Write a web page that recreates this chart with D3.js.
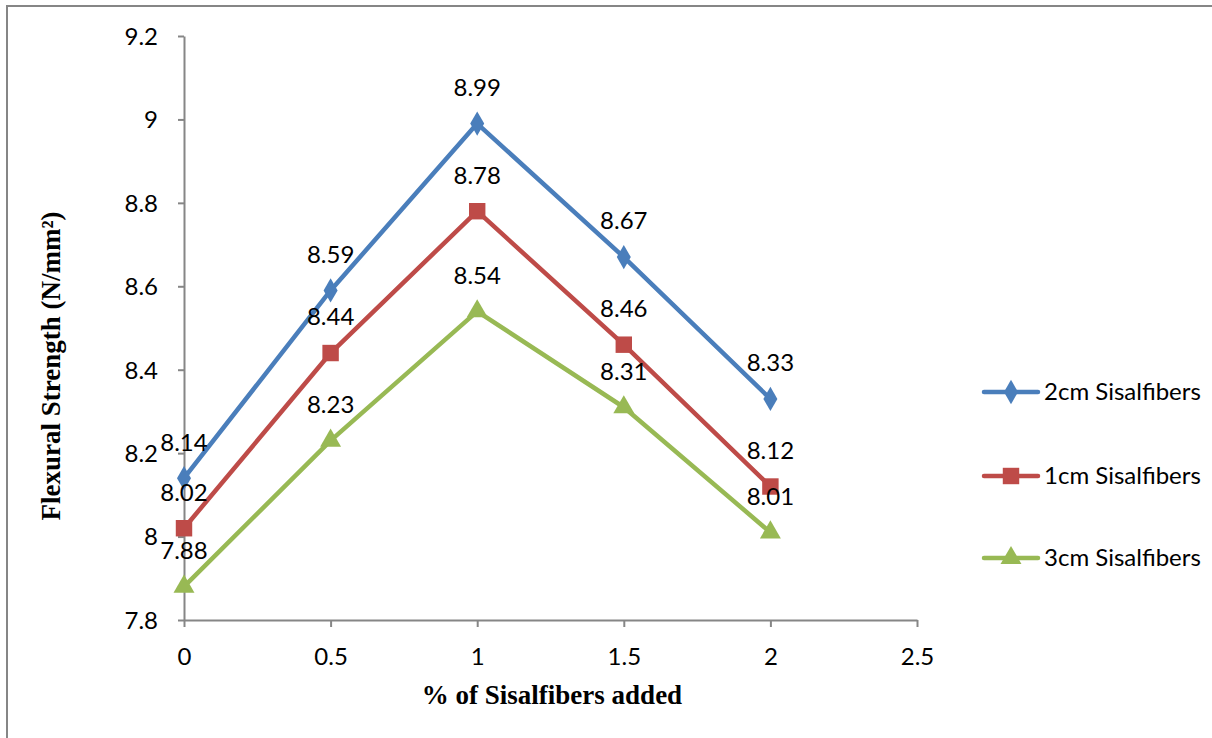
<!DOCTYPE html>
<html>
<head>
<meta charset="utf-8">
<script src="https://cdn.jsdelivr.net/npm/d3@7/dist/d3.min.js"></script>
<style>
  html, body { margin: 0; padding: 0; background: #fff; }
  svg { display: block; }
</style>
</head>
<body>
<svg id="chart" width="1212" height="738"></svg>
<script>
// Fibre dosage (% of sisal fibres added)
const fiberPercent = [0, 0.5, 1, 1.5, 2];

// Flexural strength (N/mm²) per fibre length
const strength2cm = [8.14, 8.59, 8.99, 8.67, 8.33];
const strength1cm = [8.02, 8.44, 8.78, 8.46, 8.12];
const strength3cm = [7.88, 8.23, 8.54, 8.31, 8.01];

const seriesNames = ["2cm Sisalfibers", "1cm Sisalfibers", "3cm Sisalfibers"];

const xTicks = [0, 0.5, 1, 1.5, 2, 2.5];
const yTicks = [7.8, 8, 8.2, 8.4, 8.6, 8.8, 9, 9.2];

const series = [
  { name: seriesNames[0], values: strength2cm, color: "#4a7ebb", marker: "diamond" },
  { name: seriesNames[1], values: strength1cm, color: "#be4b48", marker: "square" },
  { name: seriesNames[2], values: strength3cm, color: "#98b954", marker: "triangle" }
];

const svg = d3.select("#chart");
const labelFont = "Lato, 'Open Sans', sans-serif";
const labelSize = "24px";
const titleFont = "'Liberation Serif', 'Times New Roman', serif";
const titleSize = "27px";
const axisColor = "#868686";

// Outer chart frame
svg.append("rect")
  .attr("x", 7).attr("y", 6)
  .attr("width", 1240).attr("height", 760)
  .attr("fill", "none").attr("stroke", axisColor).attr("stroke-width", 2);

const x = d3.scaleLinear().domain([0, 2.5]).range([184, 917]);
const y = d3.scaleLinear().domain([7.8, 9.2]).range([620, 36]);

// Y axis
const yAxis = svg.append("g")
  .attr("transform", `translate(${x(0)},0)`)
  .call(d3.axisLeft(y).tickValues(yTicks).tickSize(6).tickSizeOuter(0)
    .tickFormat(d => d3.format("~g")(d)));
yAxis.select(".domain").attr("stroke", axisColor).attr("stroke-width", 2);
yAxis.selectAll(".tick line").attr("stroke", axisColor).attr("stroke-width", 2);
yAxis.selectAll(".tick text")
  .attr("x", -26).attr("dy", "0.35em")
  .style("font-family", labelFont).style("font-size", labelSize).attr("fill", "#000");

// X axis
const xAxis = svg.append("g")
  .attr("transform", `translate(0,${y(7.8)})`)
  .call(d3.axisBottom(x).tickValues(xTicks).tickSize(7).tickSizeOuter(0)
    .tickFormat(d => d3.format("~g")(d)));
xAxis.select(".domain").attr("stroke", axisColor).attr("stroke-width", 2);
xAxis.selectAll(".tick line").attr("stroke", axisColor).attr("stroke-width", 2);
xAxis.selectAll(".tick text")
  .attr("y", 37).attr("dy", "0.35em")
  .style("font-family", labelFont).style("font-size", labelSize).attr("fill", "#000");

// Axis titles
svg.append("text")
  .attr("x", 552).attr("y", 704)
  .attr("text-anchor", "middle")
  .style("font-family", titleFont).style("font-weight", "bold").style("font-size", titleSize)
  .text("% of Sisalfibers added");

svg.append("text")
  .attr("transform", "translate(60,366) rotate(-90)")
  .attr("text-anchor", "middle")
  .style("font-family", titleFont).style("font-weight", "bold").style("font-size", titleSize)
  .text("Flexural Strength (N/mm²)");

const symbolFor = {
  diamond: d3.symbol().type(d3.symbolDiamond).size(170),
  square: d3.symbol().type(d3.symbolSquare).size(270),
  triangle: d3.symbol().type(d3.symbolTriangle).size(190)
};

const line = d3.line().x((d, i) => x(fiberPercent[i])).y(d => y(d));

series.forEach(s => {
  const g = svg.append("g");
  g.append("path")
    .datum(s.values)
    .attr("d", line)
    .attr("fill", "none")
    .attr("stroke", s.color)
    .attr("stroke-width", 4.5)
    .attr("stroke-linejoin", "round");

  g.selectAll("path.marker")
    .data(s.values)
    .join("path")
    .attr("class", "marker")
    .attr("transform", (d, i) => `translate(${x(fiberPercent[i])},${y(d)})`)
    .attr("d", symbolFor[s.marker])
    .attr("fill", s.color);

  g.selectAll("text.value")
    .data(s.values)
    .join("text")
    .attr("class", "value")
    .attr("x", (d, i) => x(fiberPercent[i]))
    .attr("y", d => y(d) - 36)
    .attr("dy", "0.35em")
    .attr("text-anchor", "middle")
    .style("font-family", labelFont).style("font-size", labelSize)
    .attr("fill", "#000")
    .text(d => d3.format(".2f")(d));
});

// Legend
const legendY = [392, 476, 558];
series.forEach((s, i) => {
  const g = svg.append("g").attr("transform", `translate(0,${legendY[i]})`);
  g.append("line")
    .attr("x1", 984).attr("x2", 1038).attr("y1", 0).attr("y2", 0)
    .attr("stroke", s.color).attr("stroke-width", 4.5).attr("stroke-linecap", "round");
  g.append("path")
    .attr("transform", "translate(1011,0)")
    .attr("d", symbolFor[s.marker])
    .attr("fill", s.color);
  g.append("text")
    .attr("x", 1044).attr("y", 0).attr("dy", "0.35em")
    .style("font-family", labelFont).style("font-size", labelSize)
    .attr("fill", "#000")
    .text(s.name);
});
</script>
</body>
</html>
